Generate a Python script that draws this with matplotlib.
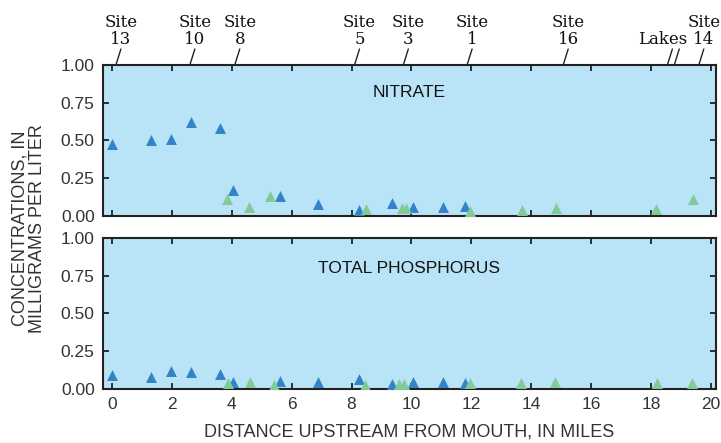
import matplotlib
matplotlib.use("Agg")
import matplotlib.pyplot as plt
import matplotlib.transforms as mtransforms

# blue sites (shared x in both panels)
blue_miles = [0.0, 1.3, 1.97, 2.64, 3.62, 4.03, 5.6, 6.89, 8.24, 9.34, 10.07, 11.05, 11.78]
blue_nitrate = [0.48, 0.50, 0.51, 0.62, 0.58, 0.17, 0.13, 0.08, 0.04, 0.085, 0.06, 0.06, 0.065]
blue_phos = [0.09, 0.08, 0.12, 0.115, 0.10, 0.045, 0.05, 0.048, 0.068, 0.035, 0.045, 0.048, 0.04]

# green sites
green_miles_n = [3.84, 4.57, 5.28, 8.48, 9.69, 9.83, 11.95, 13.7, 14.82, 18.16, 19.4]
green_nitrate = [0.115, 0.06, 0.135, 0.045, 0.055, 0.05, 0.036, 0.042, 0.055, 0.045, 0.11]
green_miles_p = [3.86, 4.6, 5.42, 8.44, 9.59, 9.74, 11.97, 13.66, 14.81, 18.2, 19.38]
green_phos = [0.038, 0.044, 0.027, 0.027, 0.03, 0.03, 0.038, 0.042, 0.044, 0.042, 0.04]

# site labels along the top
site_labels = ["Site\n13", "Site\n10", "Site\n8", "Site\n5", "Site\n3", "Site\n1", "Site\n16", "Site\n14"]
site_miles = [0.13, 2.6, 4.1, 8.1, 9.73, 11.86, 15.07, 19.6]
lakes_miles = [18.55, 18.78]

BG = "#b9e4f8"
BLUE = "#3383c8"
GREEN = "#80cb98"
DARK = "#222222"
TXT = "#333333"
SANS = "Liberation Sans"

fig = plt.figure(figsize=(7.21, 4.43), dpi=100)
ax1 = fig.add_axes([0.1429, 0.5124, 0.850, 0.3409])
ax2 = fig.add_axes([0.1429, 0.1219, 0.850, 0.3409])

for ax in (ax1, ax2):
    ax.set_facecolor(BG)
    ax.set_xlim(-0.3, 20.17)
    ax.set_ylim(0, 1)
    ax.set_xticks(range(0, 21, 2))
    ax.set_yticks([0, 0.25, 0.5, 0.75, 1.0])
    ax.set_yticklabels(["0.00", "0.25", "0.50", "0.75", "1.00"])
    ax.tick_params(direction="in", length=4, width=1.3, top=True, right=True,
                   colors=DARK, labelcolor=TXT, labelsize=12.5, pad=6)
    for lab in ax.get_yticklabels() + ax.get_xticklabels():
        lab.set_fontfamily(SANS)
    for sp in ax.spines.values():
        sp.set_linewidth(1.5)
        sp.set_color(DARK)

ax1.tick_params(labelbottom=False)
ax2.tick_params(axis="x", pad=6)

ax1.scatter(blue_miles, blue_nitrate, marker="^", s=62, color=BLUE, linewidths=0, zorder=3)
ax1.scatter(green_miles_n, green_nitrate, marker="^", s=62, color=GREEN, linewidths=0, zorder=3)
ax2.scatter(blue_miles, blue_phos, marker="^", s=62, color=BLUE, linewidths=0, zorder=3)
ax2.scatter(green_miles_p, green_phos, marker="^", s=62, color=GREEN, linewidths=0, zorder=3)

ax1.text(0.5, 0.815, "NITRATE", transform=ax1.transAxes, ha="center", va="center",
         fontsize=12.5, family=SANS, color="#111111")
ax2.text(0.5, 0.80, "TOTAL PHOSPHORUS", transform=ax2.transAxes, ha="center", va="center",
         fontsize=12.5, family=SANS, color="#111111")

ax2.set_xlabel("DISTANCE UPSTREAM FROM MOUTH, IN MILES", fontsize=13, family=SANS,
               color=TXT, labelpad=8)
fig.text(0.040, 0.485, "CONCENTRATIONS, IN\nMILLIGRAMS PER LITER", rotation=90,
         ha="center", va="center", fontsize=13, family=SANS, color=TXT, linespacing=1.05)

# leader lines and site names above the top panel
trans = mtransforms.blended_transform_factory(ax1.transData, ax1.transAxes)
dx, dy = 3.6, 11.5  # leader offset in points
for lab, m in zip(site_labels, site_miles):
    ax1.annotate("", xy=(m, 1.0), xycoords=trans, xytext=(dx, dy), textcoords="offset points",
                 arrowprops=dict(arrowstyle="-", lw=1.0, color=DARK, shrinkA=0, shrinkB=0),
                 annotation_clip=False)
    ax1.annotate(lab, xy=(m, 1.0), xycoords=trans, xytext=(dx, dy + 1.0), textcoords="offset points",
                 ha="center", va="bottom", fontsize=12, family="DejaVu Serif", color="#111111",
                 linespacing=1.0, annotation_clip=False)
for m in lakes_miles:
    ax1.annotate("", xy=(m, 1.0), xycoords=trans, xytext=(dx, dy), textcoords="offset points",
                 arrowprops=dict(arrowstyle="-", lw=1.0, color=DARK, shrinkA=0, shrinkB=0),
                 annotation_clip=False)
ax1.annotate("Lakes", xy=(lakes_miles[0], 1.0), xycoords=trans, xytext=(-3.5, dy + 1.0),
             textcoords="offset points", ha="center", va="bottom", fontsize=12,
             family="DejaVu Serif", color="#111111", annotation_clip=False)

fig.savefig("out.png", dpi=100)
